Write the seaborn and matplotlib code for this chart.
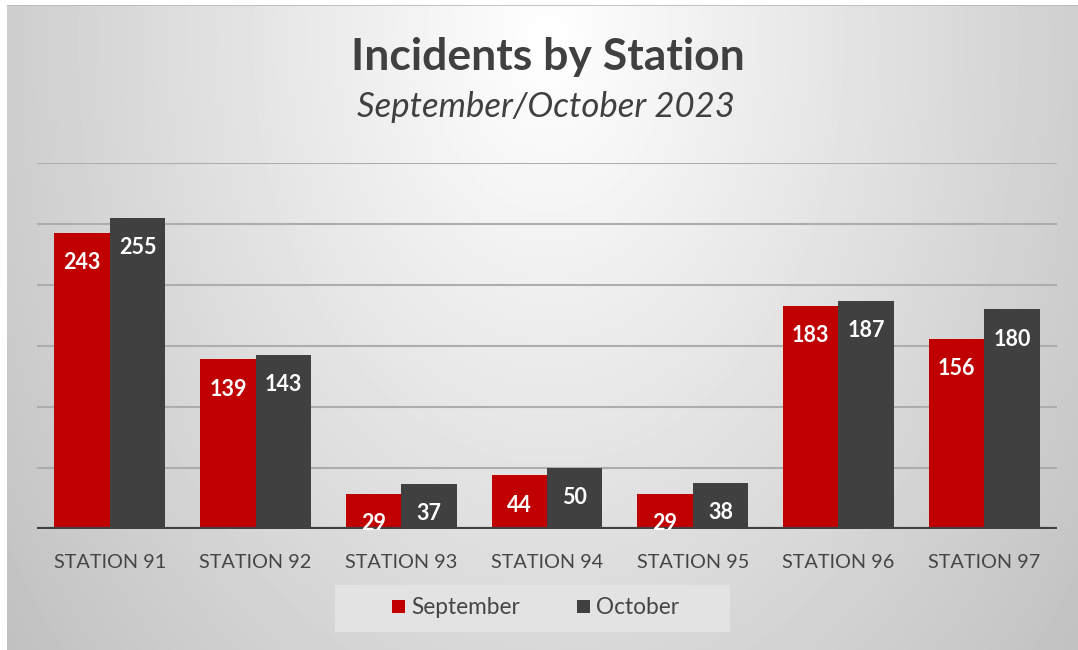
import numpy as np
import pandas as pd
import matplotlib.pyplot as plt
import seaborn as sns
from matplotlib.patches import Rectangle

stations = ['STATION 91', 'STATION 92', 'STATION 93', 'STATION 94',
            'STATION 95', 'STATION 96', 'STATION 97']
september = [243, 139, 29, 44, 29, 183, 156]
october = [255, 143, 37, 50, 38, 187, 180]
months = ['September', 'October']
colors = ['#C00000', '#404040']

df = pd.DataFrame({
    'Station': stations * 2,
    'Month': [months[0]] * len(stations) + [months[1]] * len(stations),
    'Incidents': september + october,
})

sns.set_theme(style='white')
plt.rcParams['font.family'] = ['Lato', 'DejaVu Sans']

W, H = 1078, 650
fig = plt.figure(figsize=(W / 100, H / 100), dpi=100)
fig.patch.set_facecolor('white')

# radial grey background
bg = fig.add_axes([7 / W, 0, 1 - 7 / W, 1 - 5 / H], zorder=-10)
yy, xx = np.mgrid[5:H, 7:W]
d = np.sqrt(((xx - 548) / 560.0) ** 2 + ((yy - 40) / 800.0) ** 2)
shade = 1 - 0.2 * np.clip(d, 0, 1.3)
bg.imshow(shade, cmap='gray', vmin=0, vmax=1, aspect='auto',
          extent=[0, 1, 0, 1], interpolation='bilinear')
bg.axhline(1, color='#b8b8b8', lw=1.2)
# light box behind the legend
bg.add_patch(Rectangle((335 / W, 1 - 632 / H), 395 / W, 47 / H,
                       transform=fig.transFigure, facecolor='#e3e3e3',
                       edgecolor='none'))
bg.set_axis_off()

ax = fig.add_axes([37 / W, 1 - 529 / H, (1057 - 37) / W, (529 - 163) / H])
ax.set_facecolor('none')
sns.barplot(data=df, x='Station', y='Incidents', hue='Month',
            palette=colors, width=0.76, gap=0, saturation=1,
            linewidth=0, edgecolor='none',
            ax=ax, zorder=3, legend=True)

ax.set_ylim(0, 300)
ax.set_yticks(range(0, 301, 50))
ax.yaxis.grid(True, color='#adadad', lw=1.5)
ax.set_axisbelow(True)
ax.tick_params(axis='y', left=False, labelleft=False)
ax.tick_params(axis='x', bottom=False, pad=12, labelsize=14.3, labelcolor='#454545')
ax.set_xlabel('')
ax.set_ylabel('')
for s in ax.spines.values():
    s.set_visible(False)
ax.axhline(0, color='#404040', lw=3, zorder=4)

for p in ax.patches:
    h = p.get_height()
    if h <= 0:
        continue
    ax.annotate(f'{int(round(h))}', (p.get_x() + p.get_width() / 2, h),
                xytext=(0, -14), textcoords='offset points',
                ha='center', va='top', color='white',
                fontsize=15.5, fontweight='bold', zorder=5)

fig.text(548 / W, 1 - 57 / H, 'Incidents by Station', ha='center', va='center',
         fontsize=32, fontweight='bold', color='#404040')
fig.text(546 / W, 1 - 107 / H, 'September/October 2023', ha='center', va='center',
         fontsize=25, style='italic', color='#404040')

handles, labels = ax.get_legend_handles_labels()
ax.legend(handles, labels, loc='center', bbox_to_anchor=(536 / W, 1 - 608 / H),
          bbox_transform=fig.transFigure, ncol=2, frameon=False,
          fontsize=16.3, handlelength=0.55, handleheight=0.55,
          handletextpad=0.3, columnspacing=2.5, labelcolor='#454545')

plt.savefig('out.png', dpi=100)
